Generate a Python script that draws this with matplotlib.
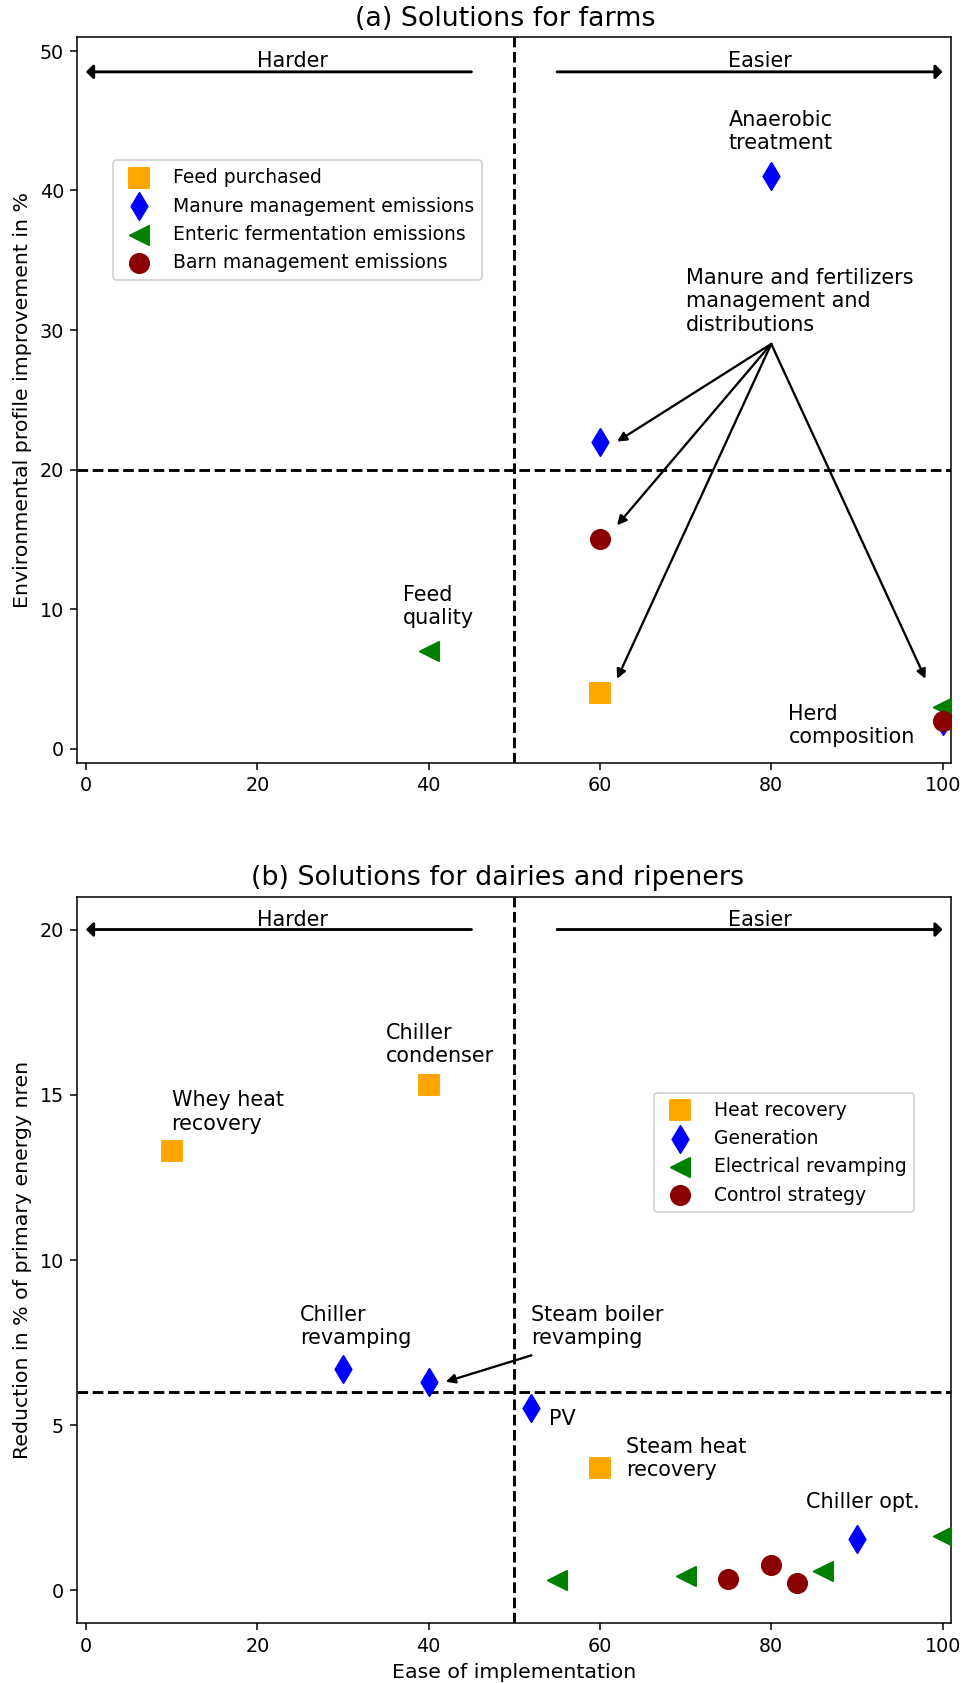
import matplotlib
matplotlib.use("Agg")
import matplotlib.pyplot as plt

# ---------------- data: (a) farms ----------------
a_feed_x = [60]
a_feed_y = [4]
a_manure_x = [80, 60, 100]
a_manure_y = [41, 22, 2]
a_enteric_x = [40, 100]
a_enteric_y = [7, 3]
a_barn_x = [60, 100]
a_barn_y = [15, 2]
a_labels = ["Feed purchased", "Manure management emissions",
            "Enteric fermentation emissions", "Barn management emissions"]

# ---------------- data: (b) dairies ----------------
b_heat_x = [10, 40, 60]
b_heat_y = [13.3, 15.3, 3.7]
b_gen_x = [30, 40, 52, 90]
b_gen_y = [6.7, 6.3, 5.5, 1.55]
b_elec_x = [55, 70, 86, 100]
b_elec_y = [0.28, 0.42, 0.57, 1.63]
b_ctrl_x = [75, 80, 83]
b_ctrl_y = [0.34, 0.75, 0.21]
b_labels = ["Heat recovery", "Generation", "Electrical revamping", "Control strategy"]

colors = ["orange", "blue", "green", "darkred"]
markers = ["s", "d", "<", "o"]

DPI = 138
plt.rcParams["axes.labelsize"] = 10.7
plt.rcParams["xtick.labelsize"] = 10
plt.rcParams["ytick.labelsize"] = 10

fig = plt.figure(figsize=(963.4 / DPI, 1683.4 / DPI), dpi=DPI)
axA = fig.add_axes([0.0803, 0.5468, 0.907, 0.431])
axB = fig.add_axes([0.0803, 0.0358, 0.907, 0.4314])

S = 100
FS = 10.8
TFS = 14
LFS = 9.8


def lr_arrow(ax, y):
    for x0, x1 in [(45, 0), (55, 100)]:
        ax.annotate("", xy=(x1, y), xytext=(x0, y),
                    arrowprops=dict(arrowstyle="-|>,head_length=0.3,head_width=0.3",
                                    color="black", lw=1.5, shrinkA=0, shrinkB=0))


# ---------- panel (a) ----------
for xs, ys, c, m, lab in zip([a_feed_x, a_manure_x, a_enteric_x, a_barn_x],
                             [a_feed_y, a_manure_y, a_enteric_y, a_barn_y],
                             colors, markers, a_labels):
    axA.scatter(xs, ys, s=S, c=c, marker=m, label=lab, zorder=3)

axA.axvline(50, color="black", ls="--")
axA.axhline(20, color="black", ls="--")
axA.set_xlim(-1, 101)
axA.set_ylim(-1, 51)
axA.set_ylabel("Environmental profile improvement in %")
axA.set_title("(a) Solutions for farms", x=0.49, fontsize=TFS)

lr_arrow(axA, 48.5)
axA.text(20, 48.6, "Harder", va="bottom", ha="left", fontsize=FS)
axA.text(75, 48.6, "Easier", va="bottom", ha="left", fontsize=FS)

axA.text(75, 42.7, "Anaerobic\ntreatment", va="bottom", ha="left", fontsize=FS)
axA.text(70, 29.7, "Manure and fertilizers\nmanagement and\ndistributions",
         va="bottom", ha="left", fontsize=FS)
axA.text(37, 8.65, "Feed\nquality", va="bottom", ha="left", fontsize=FS)
axA.text(82, 0.12, "Herd\ncomposition", va="bottom", ha="left", fontsize=FS)

for tx, ty in [(62, 22), (62, 16), (62, 5), (98, 5)]:
    axA.annotate("", xy=(tx, ty), xytext=(80, 29),
                 arrowprops=dict(arrowstyle="-|>", color="black", lw=1.2, shrinkA=0, shrinkB=0))

axA.legend(loc="upper left", bbox_to_anchor=(0.0405, 0.83), borderaxespad=0, fontsize=LFS)

# ---------- panel (b) ----------
for xs, ys, c, m, lab in zip([b_heat_x, b_gen_x, b_elec_x, b_ctrl_x],
                             [b_heat_y, b_gen_y, b_elec_y, b_ctrl_y],
                             colors, markers, b_labels):
    axB.scatter(xs, ys, s=S, c=c, marker=m, label=lab, zorder=3)

axB.axvline(50, color="black", ls="--")
axB.axhline(6, color="black", ls="--")
axB.set_xlim(-1, 101)
axB.set_ylim(-1, 21)
axB.set_yticks([0, 5, 10, 15, 20])
axB.set_ylabel("Reduction in % of primary energy nren")
axB.set_xlabel("Ease of implementation")
axB.set_title("(b) Solutions for dairies and ripeners", x=0.481, fontsize=TFS)

lr_arrow(axB, 20)
axB.text(20, 20, "Harder", va="bottom", ha="left", fontsize=FS)
axB.text(75, 20, "Easier", va="bottom", ha="left", fontsize=FS)

axB.text(10, 13.83, "Whey heat\nrecovery", va="bottom", ha="left", fontsize=FS)
axB.text(35, 15.87, "Chiller\ncondenser", va="bottom", ha="left", fontsize=FS)
axB.text(25, 7.33, "Chiller\nrevamping", va="bottom", ha="left", fontsize=FS)
axB.text(52, 7.33, "Steam boiler\nrevamping", va="bottom", ha="left", fontsize=FS)
axB.text(54, 4.87, "PV", va="bottom", ha="left", fontsize=FS)
axB.text(63, 3.33, "Steam heat\nrecovery", va="bottom", ha="left", fontsize=FS)
axB.text(84, 2.37, "Chiller opt.", va="bottom", ha="left", fontsize=FS)
axB.annotate("", xy=(42, 6.3), xytext=(52, 7.1),
             arrowprops=dict(arrowstyle="-|>", color="black", lw=1.2, shrinkA=0, shrinkB=0))

axB.legend(loc="upper left", bbox_to_anchor=(0.660, 0.73), borderaxespad=0, fontsize=LFS)

fig.savefig("out.png", dpi=DPI)
